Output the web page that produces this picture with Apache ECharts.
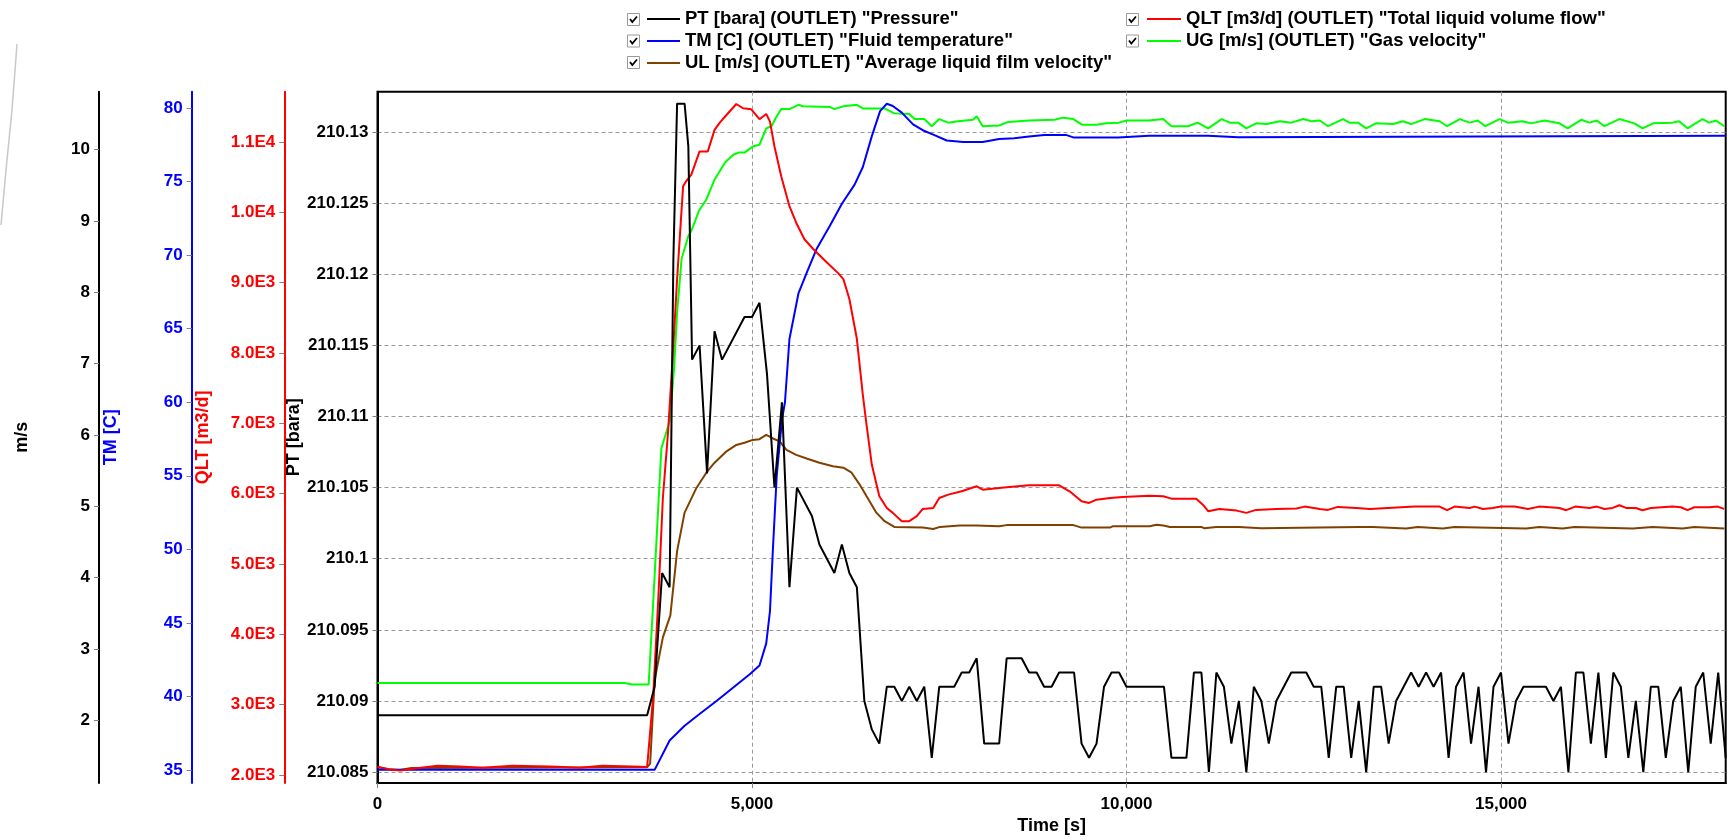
<!DOCTYPE html>
<html>
<head>
<meta charset="utf-8">
<script src="https://cdn.jsdelivr.net/npm/echarts@6/dist/echarts.min.js"></script>
<style>html,body{margin:0;padding:0;background:#fff}#c{width:1734px;height:840px}</style>
</head>
<body>
<div id="c"></div>
<script>
const FONT = '"Liberation Sans", Arial, Helvetica, sans-serif';

// ---- tick values ----
const timeTicks = [0, 5000, 10000, 15000];
const ptTicks = [210.085, 210.09, 210.095, 210.1, 210.105, 210.11, 210.115, 210.12, 210.125, 210.13];
const qltTicks = [2000, 3000, 4000, 5000, 6000, 7000, 8000, 9000, 10000, 11000];
const tmTicks = [35, 40, 45, 50, 55, 60, 65, 70, 75, 80];
const msTicks = [2, 3, 4, 5, 6, 7, 8, 9, 10];

// ---- series names ----
const namePT = 'PT [bara] (OUTLET) "Pressure"';
const nameQLT = 'QLT [m3/d] (OUTLET) "Total liquid volume flow"';
const nameTM = 'TM [C] (OUTLET) "Fluid temperature"';
const nameUG = 'UG [m/s] (OUTLET) "Gas velocity"';
const nameUL = 'UL [m/s] (OUTLET) "Average liquid film velocity"';

// ---- data [time s, value] ----
const ptData = [[0,210.089],[3600,210.089],[3700,210.091],[3800,210.099],[3900,210.098],[3950,210.121],[4000,210.132],[4100,210.132],[4150,210.129],[4200,210.114],[4300,210.115],[4400,210.106],[4500,210.116],[4600,210.114],[4900,210.117],[5000,210.117],[5100,210.118],[5200,210.113],[5300,210.105],[5400,210.111],[5500,210.098],[5600,210.105],[5800,210.103],[5900,210.101],[6000,210.100],[6100,210.099],[6200,210.101],[6300,210.099],[6400,210.098],[6500,210.090],[6600,210.088],[6700,210.087],[6800,210.091],[6900,210.091],[7000,210.090],[7100,210.091],[7200,210.090],[7300,210.091],[7400,210.086],[7500,210.091],[7700,210.091],[7800,210.092],[7900,210.092],[8000,210.093],[8100,210.087],[8300,210.087],[8400,210.093],[8600,210.093],[8700,210.092],[8800,210.092],[8900,210.091],[9000,210.091],[9100,210.092],[9300,210.092],[9400,210.087],[9500,210.086],[9600,210.087],[9700,210.091],[9800,210.092],[9900,210.092],[10000,210.091],[10500,210.091],[10600,210.086],[10800,210.086],[10900,210.092],[11000,210.092],[11100,210.085],[11200,210.092],[11300,210.091],[11400,210.087],[11500,210.090],[11600,210.085],[11700,210.091],[11800,210.090],[11900,210.087],[12000,210.090],[12100,210.091],[12200,210.092],[12400,210.092],[12500,210.091],[12600,210.091],[12700,210.086],[12800,210.091],[12900,210.091],[13000,210.086],[13100,210.090],[13200,210.085],[13300,210.091],[13400,210.091],[13500,210.087],[13600,210.090],[13700,210.091],[13800,210.092],[13900,210.091],[14000,210.092],[14100,210.091],[14200,210.092],[14300,210.086],[14400,210.091],[14500,210.092],[14600,210.087],[14700,210.091],[14800,210.085],[14900,210.091],[15000,210.092],[15100,210.087],[15200,210.090],[15300,210.091],[15600,210.091],[15700,210.090],[15800,210.091],[15900,210.085],[16000,210.092],[16100,210.092],[16200,210.087],[16300,210.092],[16400,210.086],[16500,210.092],[16600,210.091],[16700,210.086],[16800,210.090],[16900,210.085],[17000,210.091],[17100,210.091],[17200,210.086],[17300,210.090],[17400,210.091],[17500,210.085],[17600,210.091],[17700,210.092],[17800,210.087],[17900,210.092],[18000,210.086]];

const qltData = [[0,2117],[150,2080],[300,2060],[500,2090],[800,2130],[1100,2120],[1400,2100],[1800,2130],[2300,2120],[2700,2100],[3000,2130],[3400,2120],[3600,2110],[3680,3108],[3750,4523],[3810,5938],[3880,6886],[3950,8107],[4000,9051],[4080,10371],[4120,10442],[4190,10537],[4300,10867],[4410,10867],[4500,11173],[4570,11277],[4680,11410],[4790,11541],[4880,11481],[4990,11466],[5100,11325],[5190,11400],[5240,11291],[5300,10937],[5390,10513],[5500,10088],[5590,9853],[5700,9617],[5820,9475],[6000,9287],[6150,9136],[6220,9051],[6300,8768],[6400,8202],[6480,7400],[6530,6975],[6600,6409],[6700,5962],[6800,5796],[6880,5726],[7000,5608],[7100,5608],[7200,5679],[7280,5782],[7420,5796],[7500,5938],[7620,5985],[7800,6033],[8000,6104],[8080,6055],[8300,6079],[8400,6089],[8700,6118],[9100,6118],[9240,6033],[9400,5891],[9500,5867],[9600,5914],[9780,5938],[9950,5952],[10300,5971],[10490,5962],[10600,5928],[10930,5928],[11020,5843],[11090,5750],[11240,5782],[11470,5758],[11600,5726],[11730,5768],[12000,5782],[12270,5787],[12380,5815],[12580,5782],[12690,5768],[12820,5811],[13070,5796],[13250,5782],[13850,5815],[14180,5815],[14280,5764],[14380,5815],[14580,5796],[14650,5815],[14760,5782],[14890,5796],[15000,5815],[15180,5815],[15360,5782],[15510,5815],[15650,5806],[15780,5796],[15870,5764],[15990,5815],[16180,5796],[16280,5815],[16380,5782],[16490,5796],[16580,5835],[16670,5796],[16800,5796],[16890,5764],[17000,5796],[17290,5815],[17400,5806],[17490,5764],[17580,5806],[17780,5806],[17890,5815],[17980,5782]];

const tmData = [[0,35.0],[3700,35.0],[3900,37.0],[4100,38.0],[4300,38.8],[4530,39.7],[4750,40.6],[4970,41.5],[5100,42.1],[5190,43.6],[5240,45.8],[5280,50.1],[5330,55.0],[5400,58.8],[5440,60.0],[5500,64.3],[5620,67.4],[5730,68.8],[5860,70.4],[6040,72.0],[6200,73.5],[6370,74.8],[6480,76.0],[6600,78.1],[6710,79.8],[6800,80.3],[6880,80.15],[7000,79.7],[7150,78.9],[7280,78.5],[7420,78.2],[7600,77.8],[7820,77.7],[8080,77.7],[8300,77.9],[8500,77.96],[8700,78.07],[8900,78.17],[9200,78.17],[9300,78.0],[9890,78.0],[9910,78.07],[10300,78.12],[11090,78.12],[11110,78.03],[11490,78.03],[11510,78.12],[18000,78.12]];

const ugData = [[0,2.52],[3300,2.52],[3400,2.50],[3620,2.50],[3680,3.63],[3790,5.81],[3900,6.19],[3960,6.93],[4000,7.72],[4060,8.47],[4150,8.79],[4190,8.86],[4290,9.14],[4390,9.30],[4500,9.58],[4640,9.82],[4750,9.93],[4820,9.96],[4900,9.96],[5020,10.05],[5100,10.07],[5190,10.30],[5260,10.33],[5330,10.47],[5390,10.57],[5500,10.57],[5620,10.63],[5680,10.61],[6040,10.60],[6100,10.57],[6220,10.61],[6400,10.63],[6480,10.58],[6770,10.58],[6900,10.51],[7100,10.50],[7170,10.43],[7300,10.43],[7400,10.33],[7500,10.43],[7620,10.38],[7750,10.40],[7950,10.42],[8000,10.47],[8080,10.33],[8300,10.34],[8420,10.39],[8700,10.41],[9040,10.42],[9150,10.45],[9290,10.43],[9410,10.35],[9600,10.35],[9730,10.37],[9900,10.38],[10000,10.41],[10300,10.41],[10490,10.43],[10600,10.33],[10820,10.33],[10950,10.38],[11090,10.30],[11270,10.43],[11380,10.38],[11490,10.38],[11600,10.30],[11730,10.37],[11870,10.36],[12050,10.40],[12200,10.38],[12360,10.43],[12470,10.40],[12580,10.41],[12690,10.33],[12890,10.43],[12980,10.38],[13090,10.38],[13200,10.30],[13330,10.37],[13560,10.36],[13690,10.40],[13800,10.36],[13980,10.43],[14180,10.40],[14280,10.33],[14450,10.43],[14580,10.38],[14690,10.41],[14790,10.33],[14980,10.43],[15090,10.38],[15290,10.40],[15400,10.37],[15580,10.41],[15780,10.37],[15890,10.30],[16070,10.42],[16180,10.38],[16280,10.41],[16380,10.33],[16580,10.43],[16780,10.37],[16890,10.30],[17030,10.37],[17290,10.38],[17380,10.40],[17490,10.30],[17690,10.43],[17780,10.38],[17870,10.41],[17980,10.33]];

const ulData = [[0,1.34],[150,1.31],[300,1.30],[450,1.33],[3600,1.34],[3640,1.39],[3700,2.56],[3810,3.16],[3910,3.47],[4000,4.37],[4100,4.91],[4260,5.26],[4390,5.47],[4500,5.61],[4660,5.77],[4790,5.86],[4900,5.89],[5010,5.93],[5100,5.94],[5190,6.00],[5280,5.95],[5370,5.91],[5460,5.79],[5590,5.72],[5730,5.67],[5900,5.61],[6080,5.56],[6220,5.54],[6330,5.47],[6440,5.30],[6530,5.14],[6660,4.91],[6770,4.79],[6900,4.71],[7280,4.70],[7420,4.68],[7510,4.71],[7770,4.73],[8000,4.73],[8300,4.72],[8400,4.735],[9290,4.735],[9400,4.70],[9780,4.70],[9820,4.72],[10310,4.72],[10400,4.74],[10490,4.73],[10580,4.71],[11000,4.71],[11040,4.69],[11200,4.71],[11500,4.71],[11510,4.69],[11800,4.69],[11820,4.71],[13100,4.71],[13111,4.688],[13289,4.707],[13734,4.688],[13889,4.707],[14223,4.688],[14380,4.707],[15336,4.688],[15513,4.707],[15824,4.688],[15980,4.707],[16759,4.688],[17026,4.707],[17426,4.688],[17582,4.707],[17982,4.688]];

// ---- formatters ----
const fmtPT = v => String(parseFloat(v.toFixed(3)));
const fmtQLT = v => { const e = Math.floor(Math.log10(v) + 1e-9); return (v / Math.pow(10, e)).toFixed(1) + 'E' + e; };
const fmtTime = v => Math.round(v).toLocaleString('en-US');

const labelBase = { fontSize: 17, fontWeight: 'bold', fontFamily: FONT, margin: 9 };
const nameBase = { fontSize: 18, fontWeight: 'bold', fontFamily: FONT };

function yAx(o) {
  return {
    type: 'value', position: 'left', offset: o.offset, min: o.min, max: o.max,
    name: o.name, nameLocation: 'middle', nameGap: o.gap, nameMoveOverlap: false,
    nameTextStyle: Object.assign({ color: o.color }, nameBase),
    axisLine: { show: true, onZero: false, lineStyle: { color: o.lineColor || o.color, width: 2 } },
    axisTick: { show: true, length: 5, customValues: o.ticks, lineStyle: { color: '#808080', width: 1 } },
    axisLabel: Object.assign({ color: o.color, customValues: o.ticks, formatter: o.fmt }, labelBase),
    splitLine: o.split ? { show: true, lineStyle: { color: '#9a9a9a', width: 1, type: [4, 3] } } : { show: false }
  };
}

const chart = echarts.init(document.getElementById('c'), null, { renderer: 'canvas' });

function checkbox(x, cy) {
  return {
    type: 'group', x: x, y: cy - 6.5, silent: true,
    children: [
      { type: 'rect', shape: { x: 0.5, y: 0.5, width: 12, height: 12 }, style: { fill: '#fff', stroke: '#9a9a9a', lineWidth: 1 } },
      { type: 'polyline', shape: { points: [[3, 6], [5.3, 9], [10, 3.5]] }, style: { stroke: '#000', lineWidth: 1.8, fill: null } }
    ]
  };
}

const legendText = { fontSize: 18.5, fontWeight: 'bold', fontFamily: FONT, color: '#000', lineHeight: 22 };

chart.setOption({
  animation: false,
  backgroundColor: '#fff',
  grid: { left: 377.5, right: 8.3, top: 91.7, bottom: 53.5, show: true, borderColor: '#000', borderWidth: 2, backgroundColor: '#fff', containLabel: false },
  legend: [
    { data: [namePT, nameTM, nameUL], orient: 'vertical', left: 647, top: 8, padding: 0, itemGap: 0,
      itemWidth: 33, itemHeight: 2, icon: 'rect', selectedMode: false, textStyle: legendText },
    { data: [nameQLT, nameUG], orient: 'vertical', left: 1147, top: 8, padding: 0, itemGap: 0,
      itemWidth: 34, itemHeight: 2, icon: 'rect', selectedMode: false, textStyle: legendText }
  ],
  graphic: [
    checkbox(627, 19.5), checkbox(627, 41), checkbox(627, 62.5),
    checkbox(1126, 19.5), checkbox(1126, 41),
    { type: 'polyline', silent: true, shape: { points: [[17, 44], [12, 110], [6, 170], [1, 225]] }, style: { stroke: '#c8c8c8', lineWidth: 1.5, fill: null } }
  ],
  xAxis: {
    type: 'value', min: 0, max: 18000,
    name: 'Time [s]', nameLocation: 'middle', nameGap: 34, nameMoveOverlap: false,
    nameTextStyle: Object.assign({ color: '#000' }, nameBase),
    axisLine: { show: true, onZero: false, lineStyle: { color: '#000', width: 2 } },
    axisTick: { show: true, length: 5, customValues: timeTicks, lineStyle: { color: '#808080' } },
    axisLabel: Object.assign({ color: '#000', customValues: timeTicks, formatter: fmtTime }, labelBase, { margin: 13 }),
    splitLine: { show: true, lineStyle: { color: '#9a9a9a', width: 1, type: [4, 3] } }
  },
  yAxis: [
    yAx({ name: 'PT [bara]', color: '#000', offset: 0, min: 210.08423, max: 210.13284, ticks: ptTicks, fmt: fmtPT, split: true, gap: 74 }),
    yAx({ name: 'QLT [m3/d]', color: '#ff0000', offset: 93.2, min: 1884, max: 11716, ticks: qltTicks, fmt: fmtQLT, gap: 72 }),
    yAx({ name: 'TM [C]', color: '#0000ff', offset: 185.8, min: 34.107, max: 81.12, ticks: tmTicks, fmt: v => String(v), gap: 72 }),
    yAx({ name: 'm/s', color: '#000', offset: 278.5, min: 1.118, max: 10.814, ticks: msTicks, fmt: v => String(v), gap: 68 })
  ],
  series: [
    { name: nameUL, type: 'line', yAxisIndex: 3, data: ulData, color: '#804000', showSymbol: false, symbol: 'none', lineStyle: { color: '#804000', width: 2 } },
    { name: nameUG, type: 'line', yAxisIndex: 3, data: ugData, color: '#00ff00', showSymbol: false, symbol: 'none', lineStyle: { color: '#00ff00', width: 2 } },
    { name: nameTM, type: 'line', yAxisIndex: 2, data: tmData, color: '#0000ff', showSymbol: false, symbol: 'none', lineStyle: { color: '#0000ff', width: 2 } },
    { name: nameQLT, type: 'line', yAxisIndex: 1, data: qltData, color: '#ff0000', showSymbol: false, symbol: 'none', lineStyle: { color: '#ff0000', width: 2 } },
    { name: namePT, type: 'line', yAxisIndex: 0, data: ptData, color: '#000000', showSymbol: false, symbol: 'none', lineStyle: { color: '#000000', width: 2 } }
  ]
});
</script>
</body>
</html>
